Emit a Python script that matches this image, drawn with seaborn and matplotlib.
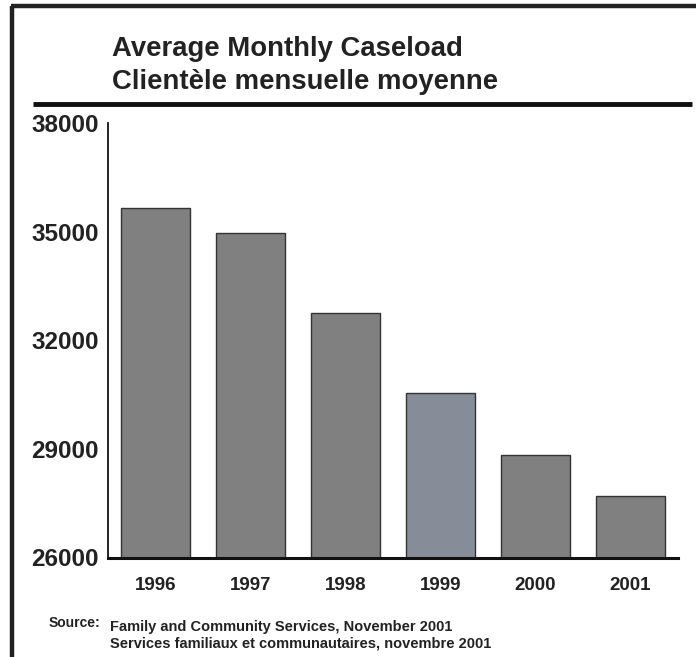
import matplotlib
matplotlib.use("Agg")
import matplotlib.pyplot as plt
import seaborn as sns
import pandas as pd
from matplotlib.lines import Line2D

years = ["1996", "1997", "1998", "1999", "2000", "2001"]
caseload = [35650, 34950, 32750, 30530, 28820, 27710]
y_ticks = [26000, 29000, 32000, 35000, 38000]
bar_colors = ["#808080", "#808080", "#808080", "#878c99", "#808080", "#808080"]

title_en = "Average Monthly Caseload"
title_fr = "Clientèle mensuelle moyenne"
source_label = "Source:"
source_lines = ["Family and Community Services, November 2001",
                "Services familiaux et communautaires, novembre 2001"]

sns.set_style("white")
plt.rcParams["font.family"] = ["Liberation Sans", "DejaVu Sans"]
plt.rcParams["font.weight"] = "bold"

df = pd.DataFrame({"year": years, "caseload": caseload})

fig = plt.figure(figsize=(6.96, 6.57), dpi=100)
W, H = 696, 657
ax = fig.add_axes([108 / W, (H - 557.5) / H, (678 - 108) / W, (557.5 - 123) / H])

sns.barplot(data=df, x="year", y="caseload", hue="year", palette=bar_colors,
            width=0.72, edgecolor="#333333", linewidth=1.0, legend=False,
            saturation=1, ax=ax)

ax.set_xlim(-0.5, 5.5)
ax.set_ylim(26000, 38000)
ax.set_yticks(y_ticks)
ax.set_yticklabels([str(v) for v in y_ticks], fontsize=17.5, fontweight="bold",
                   color="#222222")
ax.tick_params(axis="x", labelsize=13.5, length=0, pad=14, colors="#222222")
ax.tick_params(axis="y", length=0, pad=6.5)
for lbl in ax.get_xticklabels():
    lbl.set_fontweight("bold")
ax.set_xlabel("")
ax.set_ylabel("")
for side in ["top", "right"]:
    ax.spines[side].set_visible(False)
ax.spines["left"].set_linewidth(1.3)
ax.spines["left"].set_color("#111111")
ax.spines["bottom"].set_linewidth(2.2)
ax.spines["bottom"].set_color("#111111")

# page frame and rule under the heading
fig.add_artist(Line2D([12 / W, 12 / W], [0, (H - 6) / H], transform=fig.transFigure,
                      color="#222222", lw=3.2, solid_capstyle="butt"))
fig.add_artist(Line2D([10.5 / W, 1], [(H - 6) / H, (H - 6) / H], transform=fig.transFigure,
                      color="#222222", lw=3.2, solid_capstyle="butt"))
fig.add_artist(Line2D([33 / W, 692 / W], [(H - 103.5) / H, (H - 103.5) / H],
                      transform=fig.transFigure, color="#111111", lw=3.5,
                      solid_capstyle="butt"))

fig.text(112 / W, (H - 56) / H, title_en, fontsize=19.8, fontweight="bold",
         color="#222222", va="baseline", ha="left")
fig.text(112 / W, (H - 89) / H, title_fr, fontsize=19.8, fontweight="bold",
         color="#222222", va="baseline", ha="left")

fig.text(49 / W, (H - 627) / H, source_label, fontsize=10, fontweight="bold",
         color="#222222", va="baseline", ha="left")
fig.text(110 / W, (H - 631) / H, source_lines[0], fontsize=10.5, fontweight="bold",
         color="#222222", va="baseline", ha="left")
fig.text(110 / W, (H - 647) / H, source_lines[1], fontsize=10.5, fontweight="bold",
         color="#222222", va="baseline", ha="left")

fig.savefig("out.png", dpi=100)
